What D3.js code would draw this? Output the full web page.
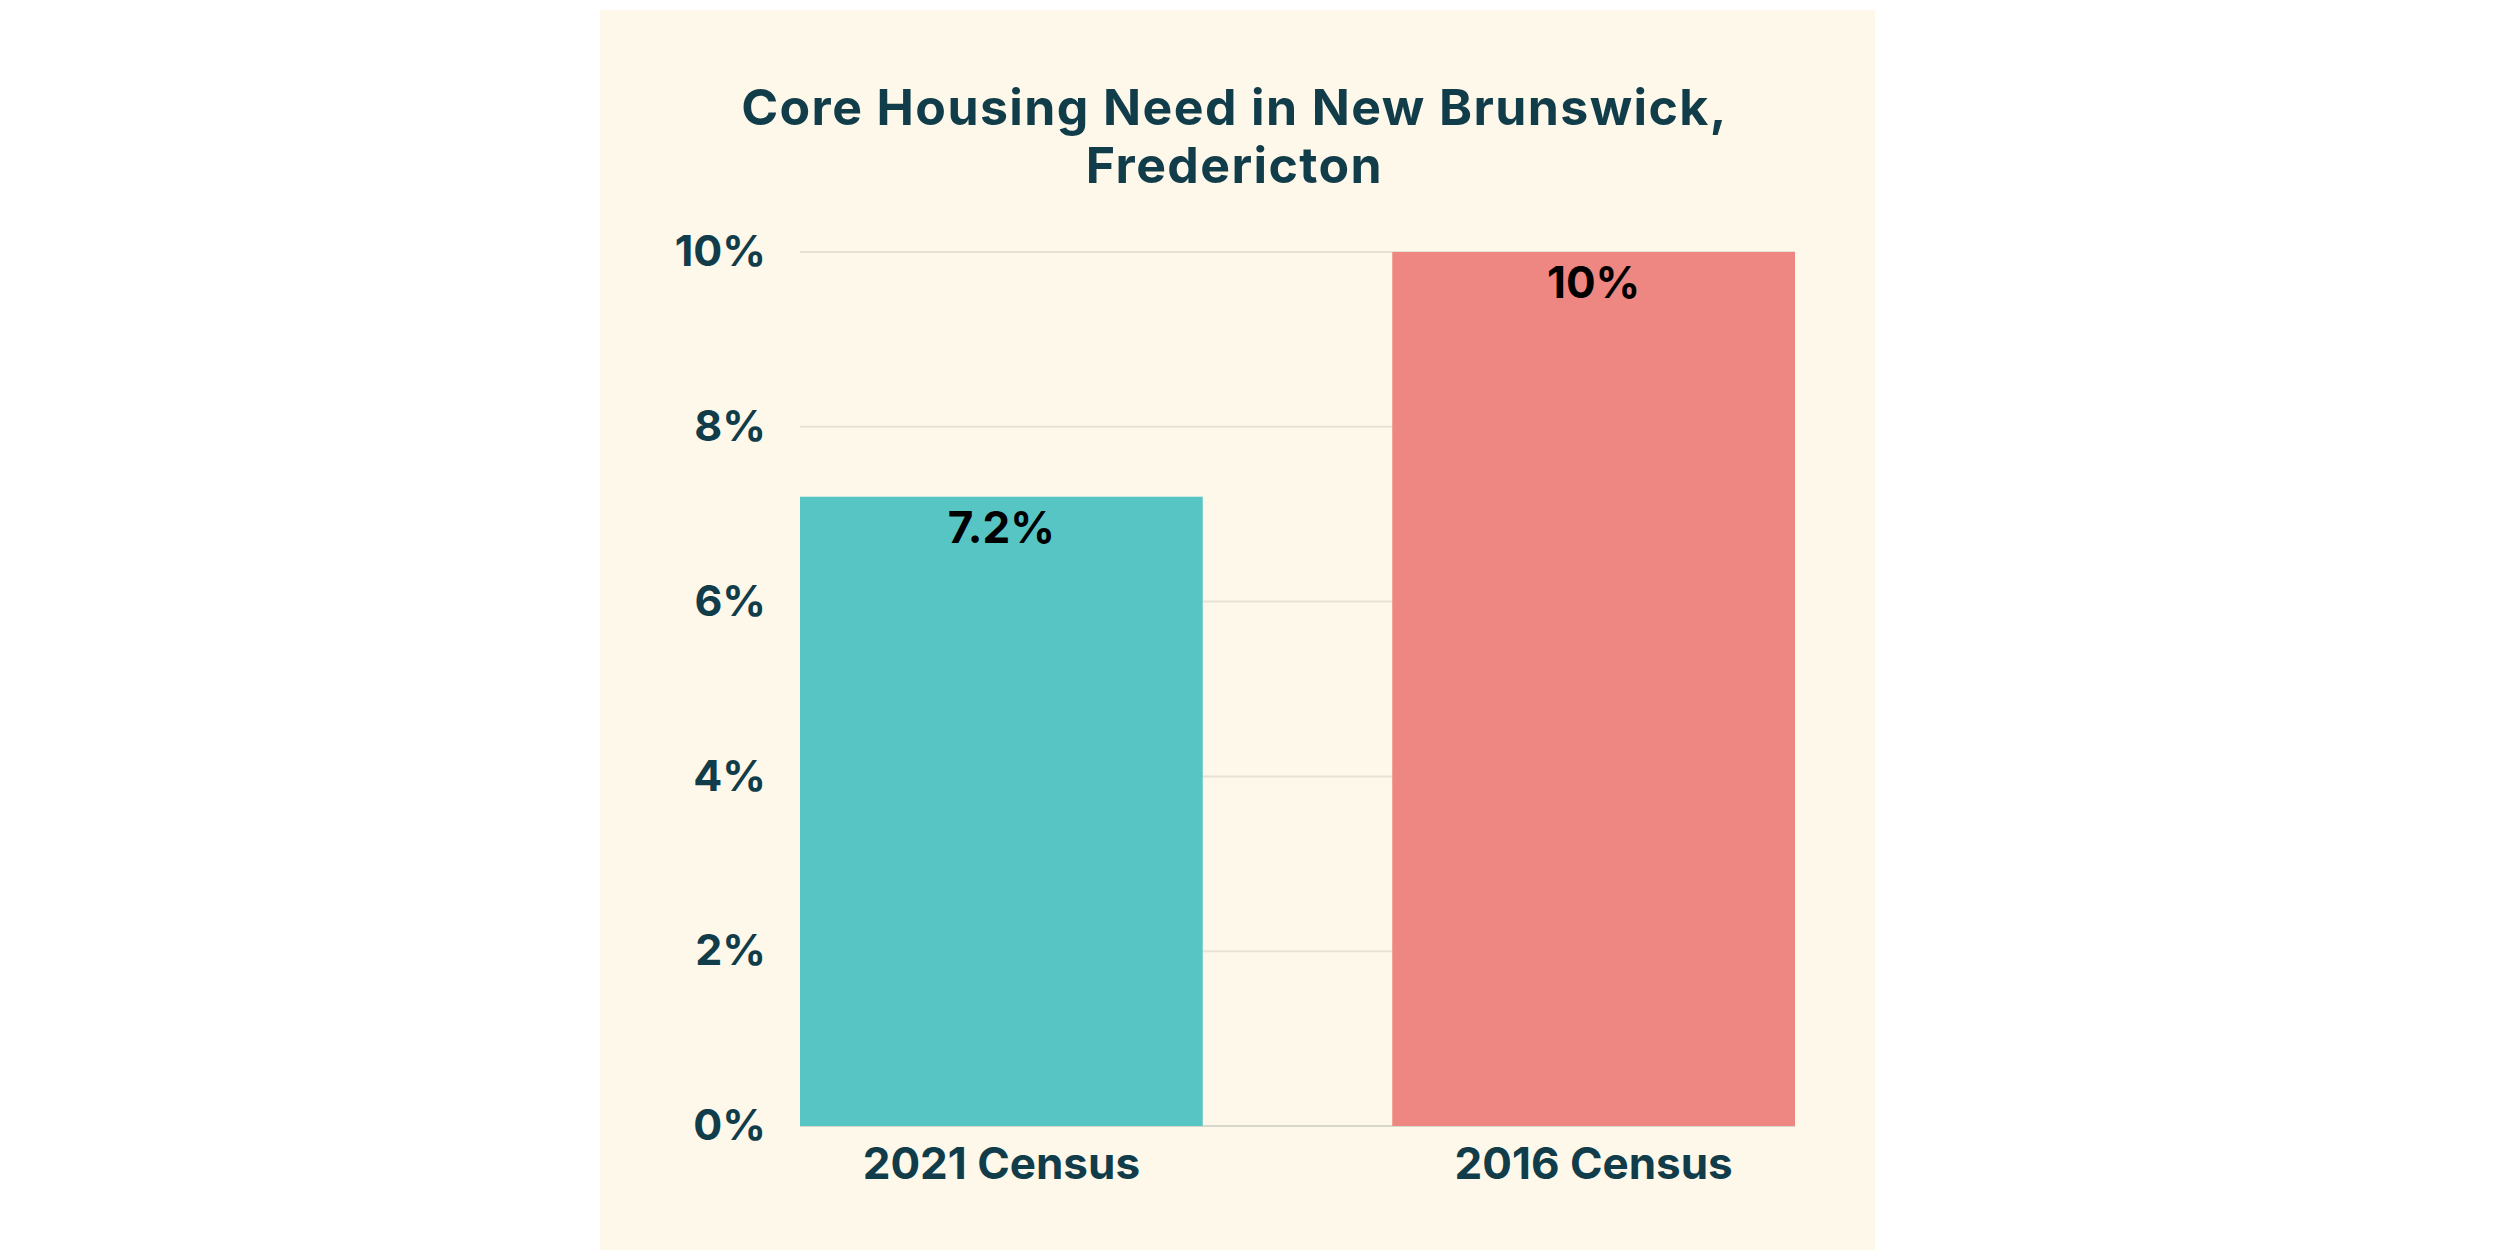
<!DOCTYPE html>
<html>
<head>
<meta charset="utf-8">
<script src="https://cdn.jsdelivr.net/npm/d3@7"></script>
<style>
  html, body { margin: 0; padding: 0; background: #ffffff; }
  svg { display: block; }
  text { font-family: "Inter", "Lato", sans-serif; font-weight: 700; }
</style>
</head>
<body>
<svg id="chart" width="2500" height="1250"></svg>
<script>
const titleLines = ["Core Housing Need in New Brunswick,", "Fredericton"];
const categories = ["2021 Census", "2016 Census"];
const values = [7.2, 10];
const valueLabels = ["7.2%", "10%"];
const barColors = ["#58c5c5", "#ee8781"];
const yTicks = [0, 2, 4, 6, 8, 10];
const yTickLabels = ["0%", "2%", "4%", "6%", "8%", "10%"];

const svg = d3.select("#chart");
const panel = { x: 600, y: 10, w: 1275, h: 1240 };
const plot = { left: 800, right: 1795, top: 252, bottom: 1126 };
const ink = "#113c4a";

svg.append("rect").attr("x", panel.x).attr("y", panel.y)
  .attr("width", panel.w).attr("height", panel.h).attr("fill", "#fdf8e9");

const x = d3.scaleBand().domain(categories).range([plot.left, plot.right])
  .paddingInner(0.32).paddingOuter(0);
const y = d3.scaleLinear().domain([0, 10]).range([plot.bottom, plot.top]);

// gridlines
svg.append("g").selectAll("line").data(yTicks).join("line")
  .attr("x1", plot.left).attr("x2", plot.right)
  .attr("y1", d => y(d)).attr("y2", d => y(d))
  .attr("stroke", d => d === 0 ? "#d6d8cc" : "#e6e3d6").attr("stroke-width", 2);

// y axis labels
const yAxis = d3.axisLeft(y).tickValues(yTicks).tickFormat((d, i) => yTickLabels[i]).tickSize(0).tickPadding(34);
const gy = svg.append("g").attr("transform", `translate(${plot.left},0)`).call(yAxis);
gy.select(".domain").remove();
gy.selectAll("text").attr("fill", ink).attr("font-size", 43)
  .attr("font-family", "Inter").attr("font-weight", 700);

// x axis labels
const xAxis = d3.axisBottom(x).tickSize(0).tickPadding(22);
const gx = svg.append("g").attr("transform", `translate(0,${plot.bottom})`).call(xAxis);
gx.select(".domain").remove();
gx.selectAll("text").attr("fill", ink).attr("font-size", 44)
  .attr("font-family", "Inter").attr("font-weight", 700);

// bars
svg.append("g").selectAll("rect").data(values).join("rect")
  .attr("x", (d, i) => x(categories[i]))
  .attr("width", x.bandwidth())
  .attr("y", d => y(d))
  .attr("height", d => y(0) - y(d))
  .attr("fill", (d, i) => barColors[i]);

// value labels
svg.append("g").selectAll("text").data(values).join("text")
  .attr("x", (d, i) => x(categories[i]) + x.bandwidth() / 2)
  .attr("y", d => y(d) + 46)
  .attr("text-anchor", "middle")
  .attr("font-size", 44)
  .attr("fill", "#000000")
  .text((d, i) => valueLabels[i]);

// title
svg.append("g").selectAll("text").data(titleLines).join("text")
  .attr("x", panel.x + panel.w / 2 - 3)
  .attr("y", (d, i) => 125 + i * 58)
  .attr("text-anchor", "middle")
  .attr("font-size", 50)
  .attr("letter-spacing", 1.4)
  .attr("fill", ink)
  .text(d => d);
</script>
</body>
</html>
